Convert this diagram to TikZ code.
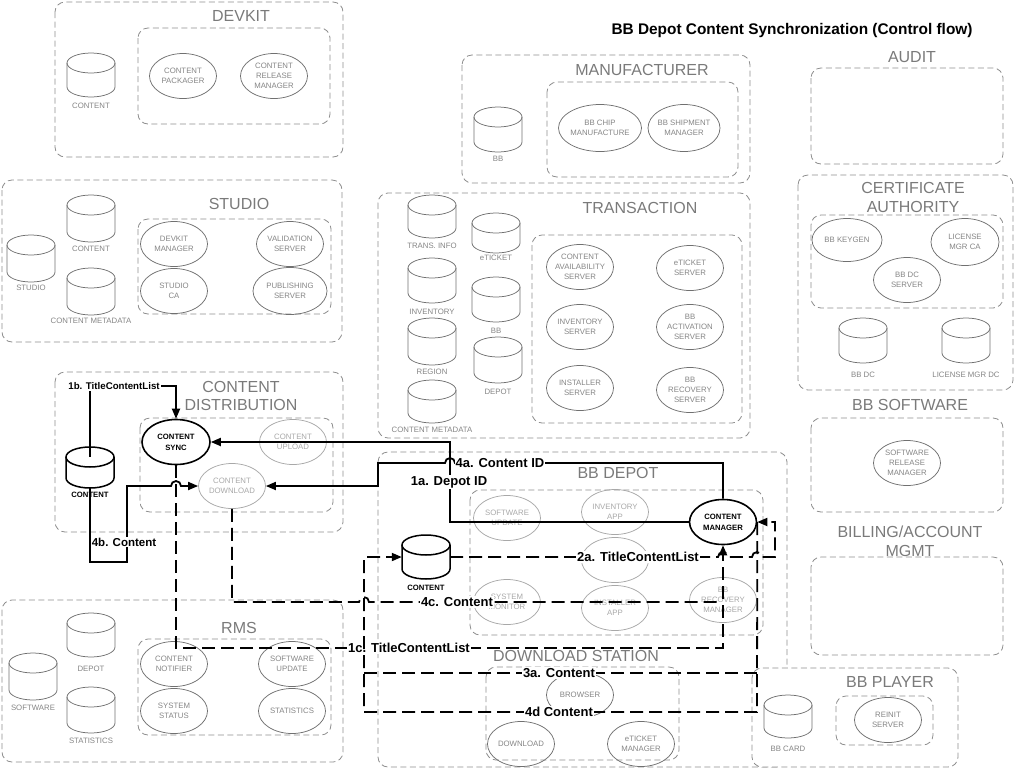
\documentclass[tikz,border=0pt]{standalone}
\usepackage{fontspec}
\setmainfont{Liberation Sans}
\usetikzlibrary{arrows.meta,shapes.geometric}
\definecolor{boxc}{HTML}{8E8E8E}
\definecolor{ellc}{HTML}{707070}
\definecolor{txtc}{HTML}{858585}
\definecolor{ttlc}{HTML}{7A7A7A}
\definecolor{lightc}{HTML}{A8A8A8}
% #1 name, #2 line style, #3 label style, #4 cx, #5 top, #6 bottom, #7 label y, #8 label
\newcommand\dbcyl[8]{%
  \node[inner sep=0pt, minimum width=48pt, minimum height={(#6)-(#5)}] (#1) at (#4,{((#5)+(#6))/2}) {};
  \draw[#2] (#4,#5+10) ellipse [x radius=24pt, y radius=10pt];
  \draw[#2] (#4-24,#5+10) -- (#4-24,#6-10) arc[start angle=180, end angle=360, x radius=24pt, y radius=10pt] -- (#4+24,#5+10);
  \node[#3] (#1l) at (#4,#7) {#8};
}
\tikzset{
 grp/.style={draw=boxc, line width=0.8pt, dash pattern=on 6pt off 3.5pt, rounded corners=10pt},
 gtitle/.style={text=ttlc, font=\fontsize{16}{18.5}\selectfont, inner sep=0pt, align=center},
 ell/.style={ellipse, draw=ellc, line width=0.75pt, minimum width=67pt, minimum height=45pt, inner xsep=-8pt, inner ysep=-3pt, align=center, text=txtc, font=\fontsize{7.8}{9.8}\selectfont},
 lell/.style={ell, draw=lightc, text=lightc},
 bell/.style={ell, draw=black, line width=1.6pt, text=black, font=\bfseries\fontsize{7.7}{11}\selectfont},
 cylg/.style={draw=ellc, line width=0.75pt},
 cylb/.style={draw=black, line width=1.5pt},
 cyltxt/.style={text=txtc, font=\fontsize{7.8}{9}\selectfont, inner sep=0pt},
 cyltxtb/.style={text=black, font=\bfseries\fontsize{7.7}{9}\selectfont, inner sep=0pt},
 conn/.style={draw=black, line width=1.8pt},
 dconn/.style={conn, dash pattern=on 13pt off 6pt},
 arr/.style={-{Triangle[length=10pt,width=8pt]}},
 lbl/.style={fill=white, inner sep=1pt, font=\bfseries\fontsize{13}{15}\selectfont},
}
\begin{document}
\begin{tikzpicture}[x=1pt,y=-1pt]
\useasboundingbox (0,0) rectangle (1015,769);
\node[font=\bfseries\fontsize{15.4}{18}\selectfont, inner sep=0pt] (title) at (792,30.5) {BB Depot Content Synchronization (Control flow)};

% ---------------- DEVKIT
\draw[grp] (55,2) rectangle (343,157);
\node[gtitle] (tdevkit) at (241,16) {DEVKIT};
\draw[grp] (138,28) rectangle (330,124);
\dbcyl{dkcont}{cylg}{cyltxt}{91}{53}{97}{106}{CONTENT}
\node[ell] (dkpack) at (183,76) {CONTENT\\PACKAGER};
\node[ell] (dkrel) at (274,76) {CONTENT\\RELEASE\\MANAGER};

% ---------------- STUDIO
\draw[grp] (2,180) rectangle (342,342);
\node[gtitle] (tstudio) at (239,204) {STUDIO};
\draw[grp] (138,219) rectangle (331,314);
\dbcyl{ststudio}{cylg}{cyltxt}{31}{235}{282}{288}{STUDIO}
\dbcyl{stcont}{cylg}{cyltxt}{91}{195}{242}{249}{CONTENT}
\dbcyl{stmeta}{cylg}{cyltxt}{91}{268}{315}{321}{CONTENT METADATA}
\node[ell] (stdkm) at (174,244) {DEVKIT\\MANAGER};
\node[ell] (stval) at (290,244) {VALIDATION\\SERVER};
\node[ell] (stca) at (174,291) {STUDIO\\CA};
\node[ell, minimum width=74pt, minimum height=47pt] (stpub) at (290,291) {PUBLISHING\\SERVER};

% ---------------- CONTENT DISTRIBUTION
\draw[grp] (55,372) rectangle (343,532);
\node[gtitle] (tcd) at (241,396) {CONTENT\\DISTRIBUTION};
\draw[grp] (140,418) rectangle (333,512);
\dbcyl{cdc}{cylb}{cyltxtb}{90}{447}{488}{495}{CONTENT}
\node[bell, minimum width=68pt] (csync) at (176,442) {CONTENT\\SYNC};
\node[lell] (cupload) at (293,442) {CONTENT\\UPLOAD};
\node[lell] (cdown) at (232,486) {CONTENT\\DOWNLOAD};

% ---------------- RMS
\draw[grp] (2,600) rectangle (343,762);
\node[gtitle] (trms) at (239,628) {RMS};
\draw[grp] (138,639) rectangle (331,735);
\dbcyl{rmsdepot}{cylg}{cyltxt}{91}{613}{657}{669}{DEPOT}
\dbcyl{rmssw}{cylg}{cyltxt}{33}{653}{700}{708}{SOFTWARE}
\dbcyl{rmsstat}{cylg}{cyltxt}{91}{687}{733}{741}{STATISTICS}
\node[ell] (cnotif) at (174,664) {CONTENT\\NOTIFIER};
\node[ell] (rmsswu) at (292,664) {SOFTWARE\\UPDATE};
\node[ell] (rmssys) at (174,711) {SYSTEM\\STATUS};
\node[ell] (rmsstats) at (292,711) {STATISTICS};

% ---------------- MANUFACTURER
\draw[grp] (462,55) rectangle (750,183);
\node[gtitle] (tmf) at (642,70) {MANUFACTURER};
\draw[grp] (547,82) rectangle (738,177);
\dbcyl{mfbb}{cylg}{cyltxt}{498}{107}{152}{159}{BB}
\node[ell, minimum width=83pt, minimum height=47pt] (mfchip) at (600,128) {BB CHIP\\MANUFACTURE};
\node[ell, minimum width=72pt, minimum height=47pt] (mfship) at (684,128) {BB SHIPMENT\\MANAGER};

% ---------------- TRANSACTION
\draw[grp] (378,193) rectangle (750,438);
\node[gtitle] (ttr) at (640,208) {TRANSACTION};
\draw[grp] (532,235) rectangle (742,423);
\dbcyl{trti}{cylg}{cyltxt}{432}{195}{238}{246}{TRANS. INFO}
\dbcyl{tret}{cylg}{cyltxt}{496}{213}{253}{258}{eTICKET}
\dbcyl{trinv}{cylg}{cyltxt}{432}{258}{303}{312}{INVENTORY}
\dbcyl{trbb}{cylg}{cyltxt}{496}{277}{322}{331}{BB}
\dbcyl{trreg}{cylg}{cyltxt}{432}{318}{365}{372}{REGION}
\dbcyl{trdep}{cylg}{cyltxt}{498}{337}{383}{392}{DEPOT}
\dbcyl{trmeta}{cylg}{cyltxt}{432}{380}{423}{430}{CONTENT METADATA}
\node[ell] (trcas) at (580,267) {CONTENT\\AVAILABILITY\\SERVER};
\node[ell] (trets) at (690,268) {eTICKET\\SERVER};
\node[ell] (trinvs) at (580,327) {INVENTORY\\SERVER};
\node[ell] (trbba) at (690,327) {BB\\ACTIVATION\\SERVER};
\node[ell] (trinst) at (580,388) {INSTALLER\\SERVER};
\node[ell] (trbbr) at (690,390) {BB\\RECOVERY\\SERVER};

% ---------------- AUDIT
\node[gtitle] (taudit) at (912,57) {AUDIT};
\draw[grp] (811,68) rectangle (1003,164);

% ---------------- CERTIFICATE AUTHORITY
\draw[grp] (798,175) rectangle (1013,390);
\node[gtitle] (tca) at (913,197.5) {CERTIFICATE\\AUTHORITY};
\draw[grp] (811,215) rectangle (1003,308);
\node[ell, minimum width=70pt, minimum height=43pt] (cakey) at (847,240) {BB KEYGEN};
\node[ell, minimum width=68pt, minimum height=47pt] (calic) at (965,242) {LICENSE\\MGR CA};
\node[ell] (cadc) at (907,280) {BB DC\\SERVER};
\dbcyl{cabbdc}{cylg}{cyltxt}{863}{318}{363}{375}{BB DC}
\dbcyl{calicdc}{cylg}{cyltxt}{966}{318}{363}{375}{LICENSE MGR DC}

% ---------------- BB SOFTWARE
\node[gtitle] (tsw) at (910,405) {BB SOFTWARE};
\draw[grp] (811,418) rectangle (1003,512);
\node[ell] (swrel) at (907,463) {SOFTWARE\\RELEASE\\MANAGER};

% ---------------- BILLING
\node[gtitle] (tbill) at (910,541.5) {BILLING/ACCOUNT\\MGMT};
\draw[grp] (811,557) rectangle (1003,655);

% ---------------- BB DEPOT / DOWNLOAD STATION
\draw[grp] (378,452) rectangle (787,767);
\node[gtitle] (tbd) at (618,473) {BB DEPOT};
\draw[grp] (470,490) rectangle (763,635);
\node[lell] (bdswu) at (507,518) {SOFTWARE\\UPDATE};
\node[lell] (bdinv) at (615,512) {INVENTORY\\APP};
\node[lell] (bdx) at (615,560) {};
\node[lell] (bdsys) at (507,602) {SYSTEM\\MONITOR};
\node[lell] (bdinst) at (615,608) {INSTALLER\\APP};
\node[lell] (bdrec) at (723,600) {BB\\RECOVERY\\MANAGER};
\node[bell] (cmgr) at (723,522) {CONTENT\\MANAGER};
\dbcyl{bcyl}{cylb}{cyltxtb}{426}{535}{579}{588}{CONTENT}

\node[gtitle] (tds) at (576,656) {DOWNLOAD STATION};
\draw[grp] (486,667) rectangle (679,760);
\node[ell] (dsbr) at (580,695) {BROWSER};
\node[ell] (dsdl) at (521,744) {DOWNLOAD};
\node[ell] (dset) at (641,744) {eTICKET\\MANAGER};

% ---------------- BB PLAYER
\draw[grp, fill=white] (752,668) rectangle (958,767);
\node[gtitle] (tbbp) at (890,682) {BB PLAYER};
\draw[grp] (836,696) rectangle (933,745);
\node[ell] (reinit) at (888,720) {REINIT\\SERVER};
\dbcyl{bbcard}{cylg}{cyltxt}{788}{695}{738}{749}{BB CARD}

% ================= CONNECTORS
% 1b
\draw[conn,arr] ([yshift=-10pt]cdc.north) -- (90,386) -- (176,386) -- (csync.north);
\node[lbl, font=\bfseries\fontsize{9.7}{11}\selectfont] (l1b) at (114,386) {1b. TitleContentList};
% 4b
\draw[conn,arr] (cdc.south) -- (90,562) -- (127,562) -- (127,486) -- (171,486) arc[start angle=180,end angle=0,radius=5pt] -- (cdown.west);
\node[lbl, font=\bfseries\fontsize{11.5}{13}\selectfont] (l4b) at (124,542) {4b. Content};
% 1a
\draw[conn,arr] (cmgr.west) -| (450,442) -- (csync.east);
\node[lbl] (l1a) at (449,482) {1a. Depot ID};
% 4a
\draw[conn,arr] (cmgr.north) -- (723,463) -- (455,463) arc[start angle=0,end angle=180,radius=5pt] -- (378,463) -- (378,486) -- (cdown.east);
\node[lbl] (l4a) at (500,463) {4a. Content ID};
% 2a
\draw[dconn,arr] (bcyl.east) -- (718,557) arc[start angle=180,end angle=0,radius=5pt] -- (752,557) arc[start angle=180,end angle=0,radius=5pt] -- (775,557) -- (775,522) -- (cmgr.east);
\node[lbl] (l2a) at (638,557) {2a. TitleContentList};
% 1c
\draw[dconn,arr] (csync.south) |- (723,648) -- (cmgr.south);
\node[lbl] (l1c) at (409,648) {1c. TitleContentList};
% 4c
\coordinate (e4c) at (720,602);
\draw[dconn] (cdown.south) |- (359,602) arc[start angle=180,end angle=0,radius=5pt] -- (e4c);
\node[lbl] (l4c) at (457,602) {4c. Content};
% 3a / 4d
\coordinate (a3r) at (757,673);
\coordinate (a3l) at (364,673);
\draw[dconn,arr] (cmgr.east) -- (757,712) -- (364,712) -- (364,557) -- (bcyl.west);
\draw[dconn] (a3r) -- (a3l);
\node[lbl] (l3a) at (559,673) {3a. Content};
\node[lbl] (l4d) at (559,712) {4d Content};
\end{tikzpicture}
\end{document}
